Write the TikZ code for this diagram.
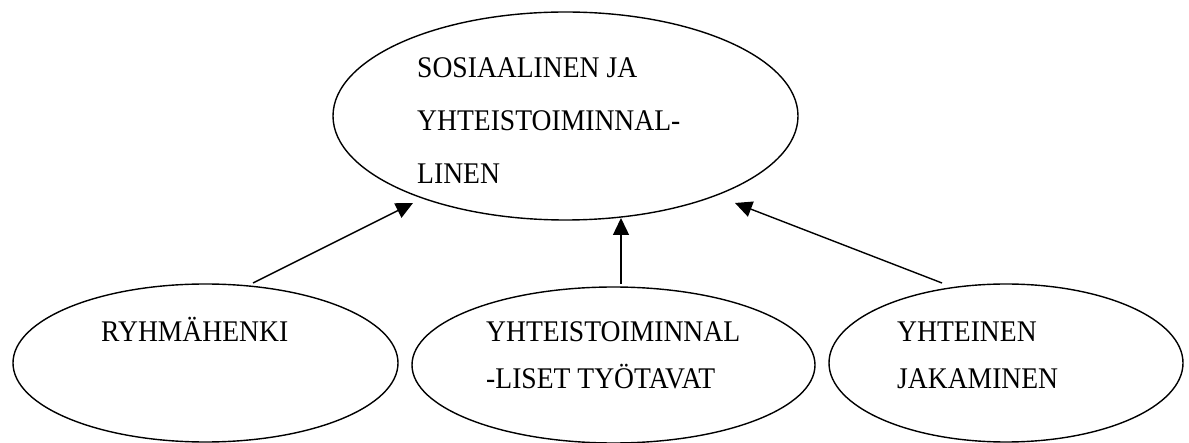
\documentclass[tikz,border=0pt]{standalone}
\usepackage{fontspec}
\setmainfont[FakeStretch=0.92]{Liberation Serif}
\usetikzlibrary{shapes.geometric,arrows.meta}
\begin{document}
\begin{tikzpicture}[x=1pt,y=-1pt,
  bubble/.style={draw,ellipse,line width=1.4pt,inner sep=0pt},
  lbl/.style={anchor=base west,inner sep=0pt,font=\fontsize{30}{36}\selectfont},
  link/.style={line width=1.4pt,-{Triangle[length=17pt,width=16pt]}}]
\useasboundingbox (0,0) rectangle (1189,443);
% ellipses
\node[bubble,minimum width=465pt,minimum height=208pt] (top) at (565.5,116) {};
\node[bubble,minimum width=385pt,minimum height=158pt] (rh) at (205.5,363) {};
\node[bubble,minimum width=403pt,minimum height=156pt] (yt) at (613.5,365) {};
\node[bubble,minimum width=354pt,minimum height=158pt] (yj) at (1006,363) {};
% texts
\node[lbl] (t1) at (417,78) {SOSIAALINEN JA};
\node[lbl] (t2) at (417,131) {YHTEISTOIMINNAL-};
\node[lbl] (t3) at (417,184) {LINEN};
\node[lbl] (r1) at (101,342) {RYHMÄHENKI};
\node[lbl] (m1) at (486,342) {YHTEISTOIMINNAL};
\node[lbl] (m2) at (486,389) {-LISET TYÖTAVAT};
\node[lbl] (j1) at (897,342) {YHTEINEN};
\node[lbl] (j2) at (897,389) {JAKAMINEN};
% connector ends
\coordinate (rhS) at (253,283);
\coordinate (ytS) at (621,284);
\coordinate (yjS) at (942,283);
\coordinate (topL) at (413,203);
\coordinate (topM) at (621,218);
\coordinate (topR) at (735,203);
\draw[link] (rhS) -- (topL);
\draw[link] (ytS) -- (topM);
\draw[link] (yjS) -- (topR);
\end{tikzpicture}
\end{document}
